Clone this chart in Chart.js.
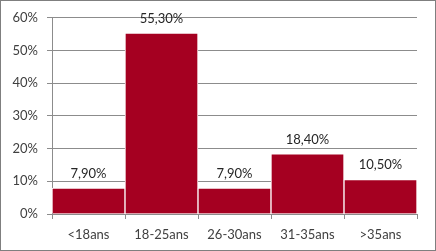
<!DOCTYPE html>
<html>
<head>
<meta charset="utf-8">
<script src="https://cdn.jsdelivr.net/npm/chart.js@4/dist/chart.umd.min.js"></script>
<style>
  html, body { margin: 0; padding: 0; background: #fff; }
  #wrap { position: relative; width: 434px; height: 249px; border: 1px solid #7f7f7f; }
</style>
</head>
<body>
<div id="wrap"><canvas id="canvas" width="434" height="249"></canvas></div>
<script>
var categories = ['<18ans', '18-25ans', '26-30ans', '31-35ans', '>35ans'];
var values = [7.9, 55.3, 7.9, 18.4, 10.5];
var valueLabels = ['7,90%', '55,30%', '7,90%', '18,40%', '10,50%'];

var fontFamily = 'Lato, "Open Sans", sans-serif';

var barLabels = {
    id: 'barLabels',
    afterDatasetsDraw: function(chart) {
        var ctx = chart.ctx;
        var meta = chart.getDatasetMeta(0);
        ctx.save();
        ctx.font = '13px ' + fontFamily;
        ctx.fillStyle = '#262626';
        ctx.textAlign = 'center';
        ctx.textBaseline = 'bottom';
        meta.data.forEach(function(bar, i) {
            ctx.fillText(valueLabels[i], bar.x, bar.y - 8);
        });
        ctx.restore();
    }
};

var ctx = document.getElementById('canvas').getContext('2d');
new Chart(ctx, {
    type: 'bar',
    data: {
        labels: categories,
        datasets: [{
            data: values,
            backgroundColor: '#a50021',
            borderColor: '#ffffff',
            borderWidth: 1,
            barPercentage: 1,
            categoryPercentage: 1
        }]
    },
    options: {
        responsive: false,
        animation: false,
        layout: { padding: { left: 0, top: 15, right: 18, bottom: 0 } },
        plugins: { legend: { display: false }, tooltip: { enabled: false } },
        scales: {
            y: {
                min: 0,
                max: 60,
                afterFit: function(scale) { scale.width = 51; },
                ticks: {
                    stepSize: 10,
                    color: '#404040',
                    font: { family: fontFamily, size: 13 },
                    padding: 9,
                    callback: function(v) { return v + '%'; }
                },
                grid: { color: '#8c8c8c', tickLength: 5 },
                border: { color: '#8c8c8c' }
            },
            x: {
                afterFit: function(scale) { scale.height = 36; },
                ticks: {
                    color: '#404040',
                    font: { family: fontFamily, size: 13 },
                    padding: 8
                },
                grid: { drawOnChartArea: false, color: '#8c8c8c', tickLength: 5 },
                border: { color: '#8c8c8c' }
            }
        }
    },
    plugins: [barLabels]
});
</script>
</body>
</html>
